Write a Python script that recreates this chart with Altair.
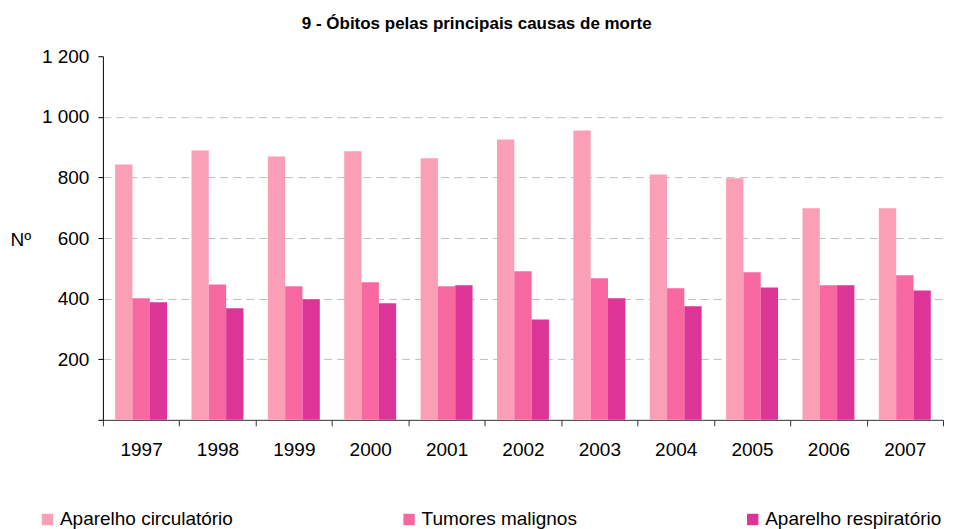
import altair as alt
import pandas as pd

years = ["1997", "1998", "1999", "2000", "2001", "2002", "2003", "2004", "2005", "2006", "2007"]
causes = ["Aparelho circulatório", "Tumores malignos", "Aparelho respiratório"]
circulatorio = [843, 889, 869, 886, 863, 925, 955, 810, 797, 698, 698]
tumores = [401, 447, 441, 454, 441, 490, 467, 434, 487, 444, 477]
respiratorio = [388, 368, 398, 385, 444, 331, 401, 375, 437, 444, 427]
colors = ["#fa9fb5", "#f768a1", "#dd3497"]
y_ticks = [0, 200, 400, 600, 800, 1000, 1200]

rows = []
for series, vals in zip(causes, [circulatorio, tumores, respiratorio]):
    for yr, v in zip(years, vals):
        rows.append({"ano": yr, "causa": series, "valor": v})
df = pd.DataFrame(rows)

FONT = "Liberation Sans"

chart = alt.Chart(df).mark_bar().encode(
    x=alt.X(
        "ano:N",
        sort=years,
        scale=alt.Scale(paddingInner=0, paddingOuter=0),
        axis=alt.Axis(
            title=None,
            labelAngle=0,
            tickBand="extent",
            domainColor="#333333",
            tickColor="#333333",
            tickSize=6,
            labelPadding=15,
            labelFontSize=19,
            labelColor="#000000",
            labelFont=FONT,
            grid=False,
        ),
    ),
    xOffset=alt.XOffset("causa:N", sort=causes, scale=alt.Scale(paddingInner=0, paddingOuter=0.706)),
    y=alt.Y(
        "valor:Q",
        scale=alt.Scale(domain=[0, 1200], nice=False),
        axis=alt.Axis(
            values=y_ticks,
            labelExpr="datum.value == 0 ? '' : replace(format(datum.value, ','), ',', ' ')",
            title="Nº",
            titleAngle=0,
            titleX=-93,
            titleY=183,
            titleAlign="left",
            titleBaseline="middle",
            titleFontSize=19,
            titleFontWeight="normal",
            titleFont=FONT,
            titleColor="#000000",
            domainColor="#000000",
            tickColor="#000000",
            tickSize=5,
            labelPadding=9,
            labelFontSize=19,
            labelFont=FONT,
            labelColor="#000000",
            grid=True,
            gridColor="#c0c0c0",
            gridDash=[8, 5],
            gridWidth=1,
            gridOpacity={"condition": {"test": "datum.value > 0 && datum.value < 1200", "value": 1}, "value": 0},
        ),
    ),
    color=alt.Color(
        "causa:N",
        sort=causes,
        scale=alt.Scale(domain=causes, range=colors),
        legend=alt.Legend(
            title=None,
            orient="none",
            legendX=-65,
            legendY=454,
            direction="horizontal",
            columns=3,
            columnPadding=166,
            symbolType="square",
            symbolSize=130,
            symbolStrokeWidth=0,
            symbolOpacity=1,
            labelFontSize=19,
            labelFont=FONT,
            labelColor="#000000",
            labelOffset=3,
            labelLimit=300,
        ),
    ),
).properties(
    width=841,
    height=364,
    title=alt.TitleParams(
        "9 - Óbitos pelas principais causas de morte",
        anchor="middle",
        frame="bounds",
        fontSize=17,
        fontWeight="bold",
        font=FONT,
        color="#000000",
        offset=14,
    ),
    padding={"left": 2, "top": 7, "right": 2, "bottom": 0},
).configure_view(stroke=None)

chart.save("out.html", embed_options={"renderer": "svg", "actions": False})
